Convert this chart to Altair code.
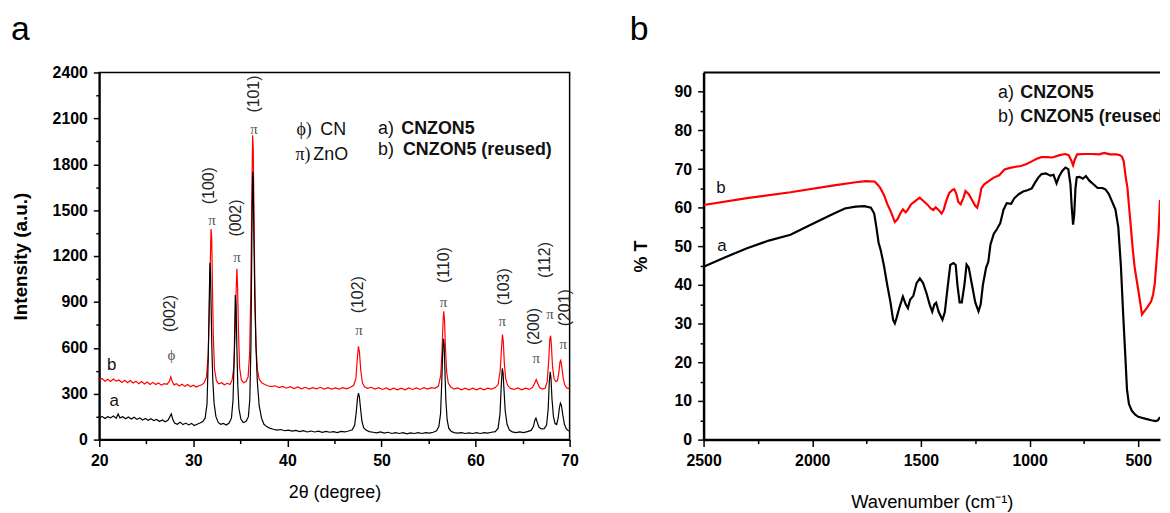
import altair as alt
import pandas as pd

# ---------------- XRD (panel a) ----------------
xrd_a_2t = [20.0, 20.3, 20.6, 20.9, 21.2, 21.5, 21.8, 22.0, 22.2, 22.5,
            22.8, 23.1, 23.4, 23.7, 24.0, 24.3, 24.6, 24.9, 25.2, 25.5,
            25.8, 26.1, 26.4, 26.7, 27.0, 27.3, 27.5, 27.65, 27.8, 28.0,
            28.3, 28.6, 28.9, 29.2, 29.5, 29.8, 30.1, 30.4, 30.7, 31.0,
            31.25, 31.45, 31.58, 31.68, 31.76, 31.82, 31.88, 31.96, 32.06, 32.2,
            32.4, 32.65, 32.9, 33.2, 33.5, 33.8, 34.05, 34.22, 34.35, 34.46,
            34.54, 34.62, 34.72, 34.85, 35.05, 35.3, 35.6, 35.85, 36.0, 36.12,
            36.22, 36.3, 36.36, 36.44, 36.54, 36.66, 36.8, 37.0, 37.25, 37.5,
            37.8, 38.1, 38.5, 38.9, 39.3, 39.7, 40.1, 40.5, 40.9, 41.3,
            41.7, 42.1, 42.5, 42.9, 43.3, 43.7, 44.1, 44.5, 44.9, 45.3,
            45.7, 46.1, 46.5, 46.9, 47.15, 47.32, 47.45, 47.55, 47.65, 47.78,
            47.92, 48.1, 48.35, 48.7, 49.1, 49.5, 49.9, 50.3, 50.7, 51.1,
            51.5, 51.9, 52.3, 52.7, 53.1, 53.5, 53.9, 54.3, 54.7, 55.1,
            55.5, 55.85, 56.1, 56.28, 56.42, 56.52, 56.6, 56.66, 56.74, 56.84,
            56.98, 57.15, 57.4, 57.7, 58.1, 58.5, 58.9, 59.3, 59.7, 60.1,
            60.5, 60.9, 61.3, 61.7, 62.1, 62.4, 62.6, 62.74, 62.84, 62.92,
            63.02, 63.15, 63.35, 63.6, 63.9, 64.3, 64.7, 65.1, 65.5, 65.9,
            66.15, 66.3, 66.42, 66.55, 66.75, 67.0, 67.3, 67.55, 67.72, 67.84,
            67.94, 68.02, 68.12, 68.28, 68.45, 68.62, 68.78, 68.92, 69.02, 69.12,
            69.28, 69.45, 69.65, 69.85, 70.0]
xrd_a_int = [140, 152, 138, 150, 142, 155, 140, 168, 142, 150,
             136, 148, 135, 146, 132, 142, 128, 138, 126, 136,
             124, 132, 118, 128, 116, 126, 150, 168, 135, 108,
             100, 114, 98, 108, 96, 106, 92, 100, 108, 118,
             140, 230, 520, 880, 1156, 1100, 900, 620, 400, 240,
             150, 112, 100, 106, 95, 108, 140, 260, 560, 945,
             880, 620, 360, 200, 135, 112, 118, 150, 260, 600,
             1300, 1751, 1700, 1300, 900, 600, 380, 220, 140, 100,
             85, 75, 68, 62, 66, 58, 62, 55, 60, 52,
             58, 50, 56, 50, 55, 48, 54, 48, 52, 46,
             54, 50, 56, 64, 95, 180, 270, 304, 280, 200,
             120, 78, 62, 52, 48, 44, 50, 42, 48, 40,
             46, 40, 45, 38, 44, 40, 46, 40, 45, 42,
             48, 58, 85, 170, 400, 600, 659, 620, 460, 260,
             130, 75, 55, 46, 42, 46, 40, 44, 40, 45,
             40, 46, 42, 48, 52, 75, 170, 360, 465, 440,
             330, 190, 100, 62, 50, 46, 50, 46, 52, 60,
             85, 125, 140, 115, 80, 70, 72, 95, 200, 380,
             443, 400, 270, 150, 105, 98, 140, 210, 238, 225,
             160, 100, 70, 60, 55]

xrd_b_2t = [20.0, 20.3, 20.6, 20.9, 21.2, 21.5, 21.8, 22.1, 22.4, 22.7,
            23.0, 23.3, 23.6, 23.9, 24.2, 24.5, 24.8, 25.1, 25.4, 25.7,
            26.0, 26.3, 26.6, 26.9, 27.2, 27.45, 27.6, 27.75, 27.95, 28.2,
            28.5, 28.8, 29.1, 29.4, 29.7, 30.0, 30.3, 30.6, 30.9, 31.15,
            31.4, 31.58, 31.7, 31.8, 31.88, 31.95, 32.03, 32.12, 32.25, 32.45,
            32.7, 33.0, 33.3, 33.6, 33.9, 34.12, 34.3, 34.44, 34.55, 34.63,
            34.7, 34.8, 34.92, 35.1, 35.35, 35.6, 35.82, 35.98, 36.1, 36.2,
            36.3, 36.37, 36.45, 36.55, 36.66, 36.8, 37.0, 37.3, 37.6, 37.9,
            38.3, 38.7, 39.1, 39.5, 39.9, 40.3, 40.7, 41.1, 41.5, 41.9,
            42.3, 42.7, 43.1, 43.5, 43.9, 44.3, 44.7, 45.1, 45.5, 45.9,
            46.3, 46.7, 47.05, 47.28, 47.42, 47.55, 47.66, 47.8, 47.98, 48.2,
            48.5, 48.9, 49.3, 49.7, 50.1, 50.5, 50.9, 51.3, 51.7, 52.1,
            52.5, 52.9, 53.3, 53.7, 54.1, 54.5, 54.9, 55.3, 55.7, 56.05,
            56.3, 56.45, 56.55, 56.62, 56.7, 56.8, 56.93, 57.1, 57.35, 57.7,
            58.1, 58.5, 58.9, 59.3, 59.7, 60.1, 60.5, 60.9, 61.3, 61.7,
            62.1, 62.4, 62.62, 62.76, 62.86, 62.95, 63.06, 63.2, 63.4, 63.7,
            64.1, 64.5, 64.9, 65.3, 65.7, 66.05, 66.3, 66.45, 66.6, 66.8,
            67.1, 67.4, 67.62, 67.78, 67.9, 67.98, 68.06, 68.18, 68.34, 68.52,
            68.7, 68.86, 68.98, 69.06, 69.16, 69.32, 69.5, 69.7, 69.88, 70.0]
xrd_b_int = [388, 400, 382, 395, 380, 396, 382, 390, 374, 388,
             372, 386, 370, 382, 366, 380, 364, 376, 360, 374,
             360, 370, 356, 366, 362, 380, 410, 380, 358, 366,
             350, 362, 348, 360, 346, 356, 344, 352, 358, 372,
             410, 560, 850, 1150, 1377, 1320, 1000, 680, 460, 385,
             365, 372, 358, 368, 360, 390, 470, 700, 980, 1117,
             1000, 700, 470, 390, 372, 380, 410, 560, 950, 1500,
             1989, 1900, 1450, 950, 620, 460, 395, 370, 360, 352,
             346, 352, 340, 348, 336, 346, 334, 344, 332, 342,
             330, 340, 332, 342, 330, 340, 330, 338, 330, 340,
             332, 342, 355, 400, 520, 610, 570, 450, 370, 345,
             335, 342, 330, 340, 328, 338, 326, 336, 326, 336,
             326, 338, 328, 338, 328, 340, 330, 340, 335, 350,
             420, 600, 780, 839, 780, 600, 440, 370, 345, 330,
             338, 326, 336, 326, 336, 326, 336, 326, 336, 330,
             340, 360, 450, 600, 687, 640, 500, 400, 355, 335,
             328, 338, 326, 336, 328, 340, 370, 393, 370, 340,
             330, 335, 380, 520, 660, 679, 620, 480, 400, 380,
             385, 440, 510, 519, 480, 400, 355, 338, 335, 330]

hkl_text = ["(002)", "(100)", "(002)", "(101)", "(102)", "(110)", "(103)", "(200)", "(112)", "(201)"]
hkl_2t = [27.49, 31.71, 34.53, 36.46, 47.53, 56.68, 63.0, 66.17, 67.4, 69.5]
hkl_int = [824, 1660, 1448, 2259, 947, 1141, 999, 739, 1174, 862]
phase_sym = ["ϕ", "π", "π", "π", "π", "π", "π", "π", "π", "π"]
phase_2t = [27.67, 31.99, 34.63, 36.46, 47.6, 56.6, 62.83, 66.45, 67.92, 69.33]
phase_int = [551, 1438, 1193, 2032, 713, 897, 774, 530, 822, 627]

key_sym = ["ϕ)", "π)"]
key_phase = ["CN", "ZnO"]
key_sym_2t = [40.96, 40.86]
key_phase_2t = [43.49, 42.75]
key_int = [2023, 1861]

sample_tag = ["a)", "b)"]
sample_name = ["CNZON5", "CNZON5 (reused)"]
xrd_tag_2t = [49.64, 49.64]
xrd_name_2t = [52.1, 52.28]
xrd_key_int = [2031, 1894]

xrd_curve_lab = ["b", "a"]
xrd_curve_lab_2t = [21.33, 21.58]
xrd_curve_lab_int = [486, 249]

# ---------------- FTIR (panel b) ----------------
ftir_a_wn = [2500, 2400, 2300, 2200, 2100, 2000, 1900, 1850, 1800, 1760,
             1730, 1715, 1705, 1695, 1685, 1670, 1655, 1640, 1628, 1620,
             1612, 1600, 1583, 1570, 1560, 1550, 1535, 1520, 1505, 1490,
             1475, 1460, 1448, 1438, 1430, 1418, 1401, 1390, 1378, 1365,
             1350, 1340, 1332, 1322, 1312, 1300, 1290, 1280, 1265, 1250,
             1235, 1225, 1215, 1200, 1190, 1180, 1165, 1150, 1135, 1120,
             1105, 1085, 1070, 1050, 1030, 1010, 990, 975, 960, 945,
             925, 905, 890, 876, 865, 850, 835, 822, 812, 806,
             800, 795, 789, 783, 770, 755, 741, 725, 705, 687,
             665, 650, 635, 620, 605, 592, 580, 570, 560, 552,
             543, 530, 515, 500, 480, 460, 440, 420, 410, 400]
ftir_a_t = [44.7, 47.2, 49.5, 51.5, 53.0, 55.8, 58.5, 59.8, 60.3, 60.4,
            60.0, 58.5, 55.0, 51.0, 49.0, 45.0, 40.0, 35.5, 31.0, 30.1,
            31.5, 34.0, 37.0, 35.0, 34.0, 36.2, 37.2, 40.5, 41.7, 40.5,
            38.0, 35.0, 33.1, 35.0, 35.4, 33.0, 31.0, 33.0, 39.0, 45.2,
            45.7, 45.2, 40.0, 35.5, 35.5, 40.0, 45.3, 44.5, 40.0, 35.5,
            33.2, 35.0, 40.0, 44.5, 46.0, 50.5, 53.2, 54.5, 56.0, 59.5,
            61.2, 61.0, 62.5, 63.5, 64.2, 64.5, 65.0, 66.5, 67.8, 68.7,
            68.9, 68.3, 68.5, 66.3, 68.0, 69.5, 70.4, 70.0, 66.0, 60.0,
            55.6, 58.0, 65.0, 67.9, 68.0, 67.5, 68.2, 67.0, 66.0, 65.1,
            65.1, 64.7, 63.5, 61.5, 59.5, 55.0, 45.0, 33.0, 22.0, 13.0,
            9.2, 7.5, 6.5, 5.9, 5.6, 5.3, 5.0, 4.8, 5.0, 5.8]

ftir_b_wn = [2500, 2300, 2100, 1900, 1800, 1755, 1713, 1700, 1688, 1670,
             1655, 1637, 1620, 1608, 1595, 1583, 1570, 1560, 1545, 1525,
             1506, 1490, 1470, 1455, 1443, 1432, 1420, 1405, 1395, 1385,
             1370, 1355, 1347, 1338, 1328, 1317, 1305, 1295, 1280, 1265,
             1250, 1241, 1232, 1222, 1210, 1190, 1165, 1140, 1115, 1090,
             1064, 1040, 1014, 990, 970, 946, 920, 895, 862, 835,
             820, 808, 800, 792, 781, 750, 711, 680, 657, 630,
             600, 584, 575, 567, 558, 550, 542, 534, 525, 517,
             508, 500, 490, 483, 475, 461, 450, 441, 432, 424,
             415, 407, 400]
ftir_b_t = [60.7, 62.5, 64.0, 65.8, 66.6, 66.9, 66.8, 66.0, 65.2, 63.3,
            61.0, 58.8, 56.3, 57.0, 58.5, 59.6, 58.8, 59.5, 60.9, 61.8,
            62.6, 61.8, 60.8, 59.8, 59.4, 60.1, 59.5, 58.5, 59.5, 61.5,
            63.8, 64.6, 64.8, 63.8, 61.5, 60.9, 62.5, 64.3, 63.5, 62.0,
            60.5, 60.0, 62.0, 65.0, 66.0, 66.8, 67.8, 68.4, 69.9, 70.3,
            70.6, 70.8, 71.3, 72.0, 72.6, 73.1, 73.1, 73.0, 73.6, 73.9,
            73.6, 72.2, 71.0, 72.5, 73.8, 73.9, 73.9, 73.8, 74.2, 73.8,
            73.8, 73.6, 73.2, 72.0, 68.0, 65.2, 60.0, 54.9, 49.0, 44.7,
            41.5, 38.7, 35.0, 32.4, 33.0, 34.0, 35.0, 35.7, 37.5, 40.4,
            47.0, 53.2, 62.0]

ftir_tag_wn = [1145, 1145]
ftir_name_wn = [1043, 1043]
ftir_key_t = [89.7, 83.4]
ftir_curve_lab = ["b", "a"]
ftir_curve_lab_wn = [2420, 2415]
ftir_curve_lab_t = [65.1, 50.1]

FONT = "Liberation Sans"
SERIF = "Liberation Serif, DejaVu Serif"
RED = "#ff0000"

WA, WB, H = 474, 460, 370

# ---------------- panel a ----------------
xs_a = alt.Scale(domain=[20, 70], nice=False, zero=False)
ys_a = alt.Scale(domain=[0, 2400], nice=False, zero=False)

tick_common = dict(tickColor="black", tickWidth=1.5, grid=False)
lab_common = dict(labelFont=FONT, labelFontSize=16, labelFontWeight="bold",
                  labelColor="black", labelFlush=False, labelOverlap=False, format="d")

ax_a_major = alt.Axis(orient="bottom", values=[20, 30, 40, 50, 60, 70], tickSize=7,
                      domainColor="black", domainWidth=2, labelPadding=6,
                      title="2θ (degree)", titleFont=FONT, titleFontSize=18,
                      titleFontWeight="normal", titleColor="black", titleY=58,
                      titleBaseline="alphabetic", **tick_common, **lab_common)
ax_a_minor = alt.Axis(orient="bottom", values=[25, 35, 45, 55, 65], tickSize=4,
                      labels=False, domain=False, title=None, **tick_common)
ay_a_major = alt.Axis(orient="left", values=list(range(0, 2401, 300)), tickSize=6,
                      domainColor="black", domainWidth=2, labelPadding=6,
                      title="Intensity (a.u.)", titleFont=FONT, titleFontSize=19,
                      titleFontWeight="bold", titleColor="black", titleX=-79, titleY=H / 2,
                      titleAngle=270, titleAlign="center", titleBaseline="middle",
                      **tick_common, **lab_common)
ay_a_minor = alt.Axis(orient="left", values=list(range(150, 2400, 300)), tickSize=3.5,
                      labels=False, domain=False, title=None, **tick_common)

df_xa = pd.DataFrame({"t": xrd_a_2t, "I": xrd_a_int})
df_xb = pd.DataFrame({"t": xrd_b_2t, "I": xrd_b_int})

red_a = alt.Chart(df_xb).mark_line(color=RED, strokeWidth=1.2, clip=True).encode(
    x=alt.X("t:Q", scale=xs_a, axis=ax_a_minor),
    y=alt.Y("I:Q", scale=ys_a, axis=ay_a_minor))
black_a = alt.Chart(df_xa).mark_line(color="black", strokeWidth=1.2, clip=True).encode(
    x=alt.X("t:Q", scale=xs_a, axis=ax_a_major),
    y=alt.Y("I:Q", scale=ys_a, axis=ay_a_major))


def txt_a(df, **kw):
    return alt.Chart(df).mark_text(**kw).encode(
        x=alt.X("t:Q", scale=xs_a, axis=None),
        y=alt.Y("I:Q", scale=ys_a, axis=None),
        text="s:N")


hkl_layer = txt_a(pd.DataFrame({"t": hkl_2t, "I": hkl_int, "s": hkl_text}),
                  angle=270, font=FONT, fontSize=16, color="#222222",
                  align="center", baseline="middle")
sym_layer = txt_a(pd.DataFrame({"t": phase_2t, "I": phase_int, "s": phase_sym}),
                  font=SERIF, fontSize=15, color="#555555", align="center", baseline="middle")
key_sym_layer = txt_a(pd.DataFrame({"t": key_sym_2t, "I": key_int, "s": key_sym}),
                      font=SERIF, fontSize=18, color="#111111", align="left", baseline="middle")
key_phase_layer = txt_a(pd.DataFrame({"t": key_phase_2t, "I": key_int, "s": key_phase}),
                        font=FONT, fontSize=18, color="#111111", align="left", baseline="middle")
tag_a_layer = txt_a(pd.DataFrame({"t": xrd_tag_2t, "I": xrd_key_int, "s": sample_tag}),
                    font=FONT, fontSize=18, color="#111111", align="left", baseline="middle")
name_a_layer = txt_a(pd.DataFrame({"t": xrd_name_2t, "I": xrd_key_int, "s": sample_name}),
                     font=FONT, fontSize=18, fontWeight="bold", color="#111111",
                     align="left", baseline="middle")
curve_a_layer = txt_a(pd.DataFrame({"t": xrd_curve_lab_2t, "I": xrd_curve_lab_int, "s": xrd_curve_lab}),
                      font=FONT, fontSize=17, color="#111111", align="center", baseline="middle")
letter_a = alt.Chart(pd.DataFrame({"s": ["a"]})).mark_text(
    font=FONT, fontSize=34, color="black", align="left", baseline="top").encode(
    text="s:N", x=alt.value(-89), y=alt.value(-60))

panel_a = alt.layer(red_a, black_a, hkl_layer, sym_layer, key_sym_layer, key_phase_layer,
                    tag_a_layer, name_a_layer, curve_a_layer, letter_a).resolve_axis(
    x="independent", y="independent").properties(width=WA, height=H)

# ---------------- panel b ----------------
xs_b = alt.Scale(domain=[400, 2500], reverse=True, nice=False, zero=False)
ys_b = alt.Scale(domain=[0, 95], nice=False, zero=False)

ax_b_major = alt.Axis(orient="bottom", values=[500, 1000, 1500, 2000, 2500],
                      tickSize=7, domainColor="black", domainWidth=2.5, labelPadding=6,
                      title="Wavenumber (cm⁻¹)", titleFont=FONT, titleFontSize=18.5,
                      titleFontWeight="normal", titleColor="black", titleY=68,
                      titleBaseline="alphabetic", **tick_common, **lab_common)
ax_b_minor = alt.Axis(orient="bottom", values=[750, 1250, 1750, 2250], tickSize=4,
                      labels=False, domain=False, title=None, **tick_common)
ay_b_major = alt.Axis(orient="left", values=list(range(0, 91, 10)), tickSize=6,
                      domainColor="black", domainWidth=2.5, labelPadding=6,
                      title="% T", titleFont=FONT, titleFontSize=18,
                      titleFontWeight="bold", titleColor="black", titleX=-63, titleY=H / 2,
                      titleAngle=270, titleAlign="center", titleBaseline="middle",
                      **tick_common, **lab_common)
ay_b_minor = alt.Axis(orient="left", values=list(range(5, 90, 10)), tickSize=3.5,
                      labels=False, domain=False, title=None, **tick_common)

df_fa = pd.DataFrame({"w": ftir_a_wn, "T": ftir_a_t})
df_fb = pd.DataFrame({"w": ftir_b_wn, "T": ftir_b_t})

black_b = alt.Chart(df_fa).mark_line(color="black", strokeWidth=2.2, clip=True).encode(
    x=alt.X("w:Q", scale=xs_b, axis=ax_b_major),
    y=alt.Y("T:Q", scale=ys_b, axis=ay_b_major))
red_b = alt.Chart(df_fb).mark_line(color=RED, strokeWidth=2.2, clip=True).encode(
    x=alt.X("w:Q", scale=xs_b, axis=ax_b_minor),
    y=alt.Y("T:Q", scale=ys_b, axis=ay_b_minor))


def txt_b(df, **kw):
    return alt.Chart(df).mark_text(clip=True, **kw).encode(
        x=alt.X("w:Q", scale=xs_b, axis=None),
        y=alt.Y("T:Q", scale=ys_b, axis=None),
        text="s:N")


tag_b_layer = txt_b(pd.DataFrame({"w": ftir_tag_wn, "T": ftir_key_t, "s": sample_tag}),
                    font=FONT, fontSize=18, color="#111111", align="left", baseline="middle")
name_b_layer = txt_b(pd.DataFrame({"w": ftir_name_wn, "T": ftir_key_t, "s": sample_name}),
                     font=FONT, fontSize=18, fontWeight="bold", color="#111111",
                     align="left", baseline="middle")
curve_b_layer = txt_b(pd.DataFrame({"w": ftir_curve_lab_wn, "T": ftir_curve_lab_t, "s": ftir_curve_lab}),
                      font=FONT, fontSize=17, color="#111111", align="center", baseline="middle")
top_frame = alt.Chart(pd.DataFrame({"d": [0]})).mark_rule(color="black", strokeWidth=2).encode(
    x=alt.value(0), x2=alt.value(WB), y=alt.value(0))
letter_b = alt.Chart(pd.DataFrame({"s": ["b"]})).mark_text(
    font=FONT, fontSize=34, color="black", align="center", baseline="top").encode(
    text="s:N", x=alt.value(-65), y=alt.value(-60))

panel_b = alt.layer(black_b, red_b, tag_b_layer, name_b_layer, curve_b_layer,
                    top_frame, letter_b).resolve_axis(
    x="independent", y="independent").properties(
    width=WB, height=H, view=alt.ViewBackground(stroke="transparent"))

chart = alt.hconcat(panel_a, panel_b, spacing=135, bounds="flush",
                    padding={"left": 2, "top": 2, "right": 0, "bottom": 0}).configure(
    font=FONT, background="white",
    view=alt.ViewConfig(stroke="black", strokeWidth=1.5))

chart.save("out.html", embed_options={"renderer": "svg", "actions": False})
